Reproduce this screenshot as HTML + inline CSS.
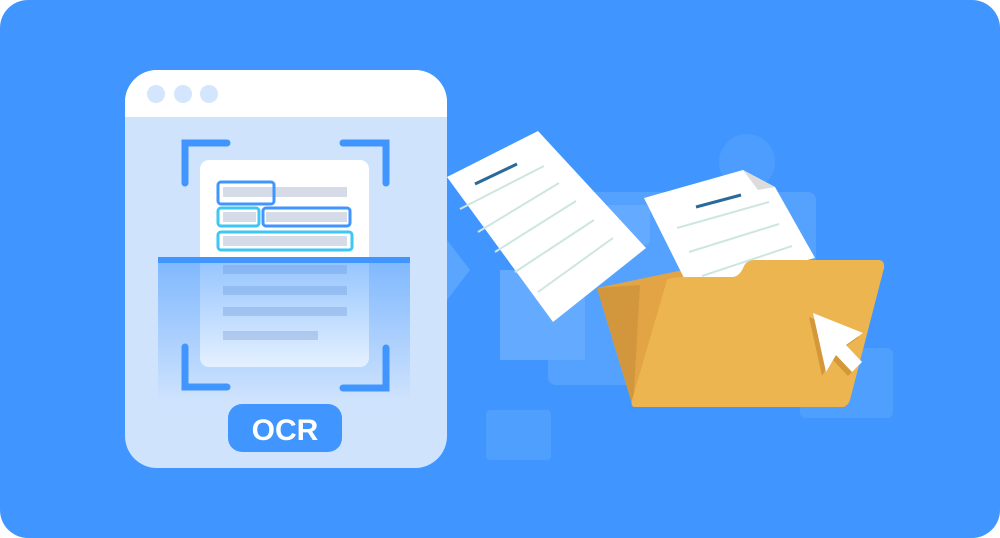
<!DOCTYPE html>
<html><head><style>html,body{margin:0;padding:0;background:#fff}svg{display:block}</style></head>
<body>
<svg width="1000" height="538" viewBox="0 0 1000 538" xmlns="http://www.w3.org/2000/svg">
<defs>
<linearGradient id="scan" x1="0" y1="0" x2="0" y2="1">
<stop offset="0" stop-color="#4096fe" stop-opacity="0.55"/>
<stop offset="1" stop-color="#4096fe" stop-opacity="0"/>
</linearGradient>
</defs>
<rect x="0" y="0" width="1000" height="538" rx="28" fill="#4096fe"/>
<!-- background decor -->
<circle cx="747" cy="162" r="28" fill="#4c9dfe"/>
<rect x="548" y="192" width="268" height="193" rx="8" fill="#55a2fe"/>
<rect x="500" y="205" width="150" height="40" rx="6" fill="#64abff"/>
<rect x="500" y="270" width="85" height="90" fill="#64abff"/>
<rect x="800" y="348" width="93" height="70" rx="6" fill="#4e9ffe"/>
<rect x="486" y="410" width="65" height="50" rx="4" fill="#4e9ffe"/>
<path d="M447 240 L470 270 L447 300 Z" fill="#5aa5fe"/>
<!-- window -->
<rect x="125" y="70" width="322" height="398" rx="32" fill="#cfe3fd"/>
<path d="M157 70 H415 A32 32 0 0 1 447 102 V117 H125 V102 A32 32 0 0 1 157 70 Z" fill="#fff"/>
<circle cx="156" cy="94" r="9" fill="#d4e6fd"/>
<circle cx="183" cy="94" r="9" fill="#d4e6fd"/>
<circle cx="209" cy="94" r="9" fill="#d4e6fd"/>
<g stroke="#4096fe" stroke-width="7" fill="none" stroke-linecap="round">
<path d="M185 183 V143 H227"/>
<path d="M343 143 H386 V183"/>
<path d="M185 347 V387 H227"/>
<path d="M343 388 H386 V348"/>
</g>
<rect x="200" y="160" width="169" height="207" rx="9" fill="#fff"/>
<g fill="#d6dbe8">
<rect x="223" y="187" width="124" height="10"/>
<rect x="223" y="212" width="33" height="10"/>
<rect x="266" y="212" width="81" height="10"/>
<rect x="223" y="236" width="124" height="10"/>
<rect x="223" y="265" width="124" height="9"/>
<rect x="223" y="286" width="124" height="9"/>
<rect x="223" y="307" width="124" height="9"/>
<rect x="223" y="331" width="95" height="9"/>
</g>
<g fill="none" stroke-width="3">
<rect x="218" y="182" width="56" height="22" rx="3" stroke="#4096fe"/>
<rect x="218" y="208" width="41" height="18" rx="3" stroke="#3ec6f5"/>
<rect x="263" y="208" width="87" height="18" rx="3" stroke="#4096fe"/>
<rect x="218" y="232" width="134" height="18" rx="3" stroke="#3ec6f5"/>
</g>
<rect x="158" y="262" width="252" height="140" fill="url(#scan)"/>
<rect x="158" y="257" width="252" height="6" fill="#4096fe"/>
<rect x="228" y="404" width="114" height="48" rx="14" fill="#4096fe"/>
<text x="285" y="440" text-anchor="middle" font-family="Liberation Sans, sans-serif" font-weight="bold" font-size="30" fill="#fff">OCR</text>
<!-- paper 1 -->
<polygon points="447,177 538,131 646,248 553,322" fill="#fff"/>
<line x1="475" y1="184" x2="517" y2="164" stroke="#2a6a9a" stroke-width="3"/>
<g stroke="#cde6e2" stroke-width="2">
<line x1="460" y1="209" x2="544" y2="166"/>
<line x1="478" y1="232" x2="559" y2="183"/>
<line x1="495" y1="252" x2="576" y2="201"/>
<line x1="515" y1="272" x2="594" y2="220"/>
<line x1="538" y1="292" x2="613" y2="238"/>
</g>
<!-- folder back -->
<polygon points="597,288 683,270 700,280 860,270 845,407 633,407" fill="#e2a444"/>
<polygon points="597,288 640,285 633,407" fill="#d2963c"/>
<!-- paper 2 -->
<polygon points="644,198 743,170 775,187 815,258 690,290" fill="#fff"/>
<polygon points="743,170 775,187 758,190" fill="#dcdcdc"/>
<line x1="696" y1="207" x2="741" y2="195" stroke="#2a6a9a" stroke-width="3"/>
<g stroke="#cde6e2" stroke-width="2">
<line x1="677" y1="228" x2="769" y2="202"/>
<line x1="689" y1="252" x2="779" y2="224"/>
<line x1="702" y1="276" x2="792" y2="246"/>
</g>
<!-- folder front -->
<path d="M667 280 Q670 277 690 277 L733 277 Q740 276 744 266 Q747 260 755 260 L878 260 Q885 260 884 268 L850 400 Q848 407 840 407 L636 407 Q630 407 632 400 Z" fill="#edb54f"/>
<polygon points="813,313 863,333 846,345 862,362 852,372 836,355 826,372" fill="#d4973a" transform="translate(-4,4)"/>
<polygon points="813,313 863,333 846,345 862,362 852,372 836,355 826,372" fill="#fff"/>
</svg>
</body></html>
